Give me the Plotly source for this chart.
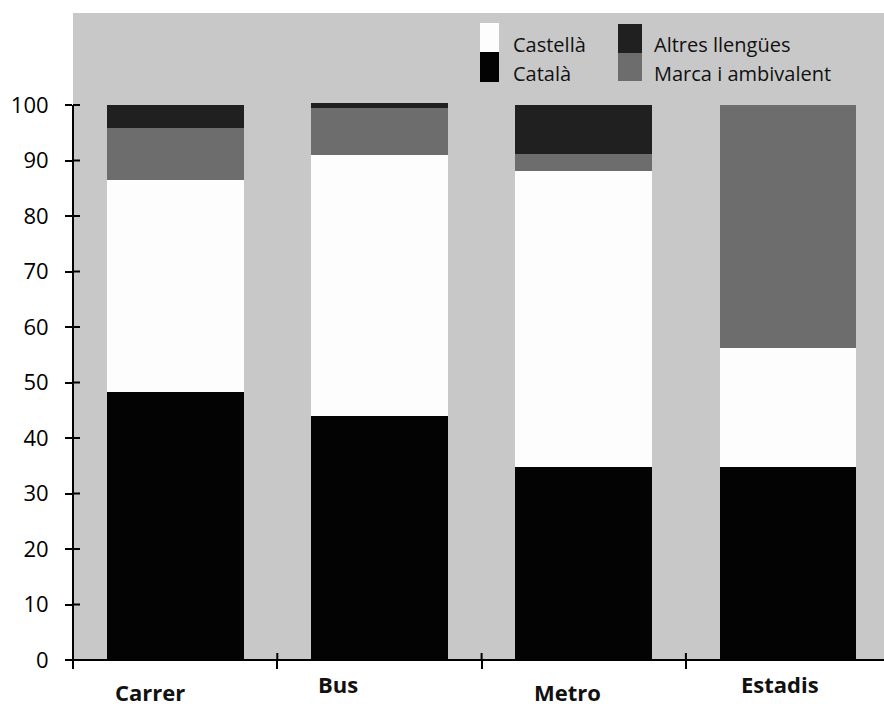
import plotly.graph_objects as go

# ---- data ----
categories = ["Carrer", "Bus", "Metro", "Estadis"]
catala = [48.2, 44.0, 34.8, 34.8]
castella = [38.3, 47.0, 53.3, 21.5]
marca = [9.3, 8.4, 3.0, 43.7]
altres = [4.2, 1.0, 8.9, 0.0]
y_ticks = list(range(0, 101, 10))

series = [
    ("Català", catala, "#030303"),
    ("Castellà", castella, "#fdfdfd"),
    ("Marca i ambivalent", marca, "#6d6d6d"),
    ("Altres llengües", altres, "#202020"),
]

W, H = 884, 708
ML, MR, MT, MB = 73, 0, 13, 48
PW, PH = W - ML - MR, H - MT - MB
FONT = "Open Sans"

def px(x):
    return (x - ML) / PW

def py(y):
    return (H - MB - y) / PH

xs = list(range(len(categories)))
fig = go.Figure()
for name, vals, col in series:
    fig.add_trace(go.Bar(x=xs, y=vals, name=name, marker=dict(color=col, line=dict(width=0)),
                         width=0.67, showlegend=False))

x_range = [-0.5, -0.5 + PW / 204.3]
y_range = [0, (H - MB - MT) / 5.55]
boundaries = [i - 0.5 for i in xs]

fig.update_layout(
    width=W, height=H,
    margin=dict(l=ML, r=MR, t=MT, b=MB),
    paper_bgcolor="white", plot_bgcolor="#c8c8c8",
    barmode="stack",
    font=dict(family=FONT, color="black"),
    xaxis=dict(range=x_range, tickvals=boundaries, ticktext=[""] * len(boundaries),
               ticks="outside", ticklen=8, tickwidth=2, tickcolor="black",
               showgrid=False, zeroline=False, showline=False),
    yaxis=dict(range=y_range, tickvals=y_ticks, ticks="outside", ticklen=7, tickwidth=2,
               tickcolor="black", showgrid=False, zeroline=False, showline=False,
               tickfont=dict(size=22, family=FONT, color="black"), ticklabelstandoff=12),
)

# axis lines
fig.add_shape(type="line", xref="paper", yref="y", x0=0, x1=0, y0=0, y1=100,
              line=dict(color="black", width=2), layer="above")
fig.add_shape(type="line", xref="paper", yref="paper", x0=px(69), x1=1, y0=0, y1=0,
              line=dict(color="black", width=2), layer="above")
# inner halves of the crossing ticks
for t in y_ticks[1:]:
    fig.add_shape(type="line", xref="paper", yref="y", x0=0, x1=px(ML + 7), y0=t, y1=t,
                  line=dict(color="black", width=2), layer="above")
for b in boundaries[1:]:
    fig.add_shape(type="line", xref="x", yref="paper", x0=b, x1=b, y0=0, y1=7 / PH,
                  line=dict(color="black", width=2), layer="above")

# category labels
label_pos = {"Carrer": (-25, 692), "Bus": (-41, 684), "Metro": (-16, 692), "Estadis": (-8, 684)}
for i, c in enumerate(categories):
    dx, yy = label_pos[c]
    fig.add_annotation(x=i, xref="x", y=py(yy), yref="paper", text=c, showarrow=False,
                       xshift=dx, xanchor="center", yanchor="middle",
                       font=dict(family=FONT, size=22, color="#111", weight="bold"))

# custom legend (stacked swatches)
legend_items = [
    ("Castellà", "#fdfdfd", 480, 499, 23, 52, 511, 45),
    ("Català", "#030303", 480, 499, 52, 82, 511, 73),
    ("Altres llengües", "#202020", 618, 642, 24, 53, 652, 45),
    ("Marca i ambivalent", "#6d6d6d", 618, 642, 53, 81, 652, 73),
]
for name, col, x0, x1, y0, y1, tx, ty in legend_items:
    fig.add_shape(type="rect", xref="paper", yref="paper", x0=px(x0), x1=px(x1),
                  y0=py(y1), y1=py(y0), fillcolor=col, line=dict(width=0))
    fig.add_annotation(x=px(tx), y=py(ty), xref="paper", yref="paper", text=name,
                       showarrow=False, xanchor="left", yanchor="middle",
                       font=dict(family=FONT, size=20, color="#111"))

fig.write_html("out.html")
